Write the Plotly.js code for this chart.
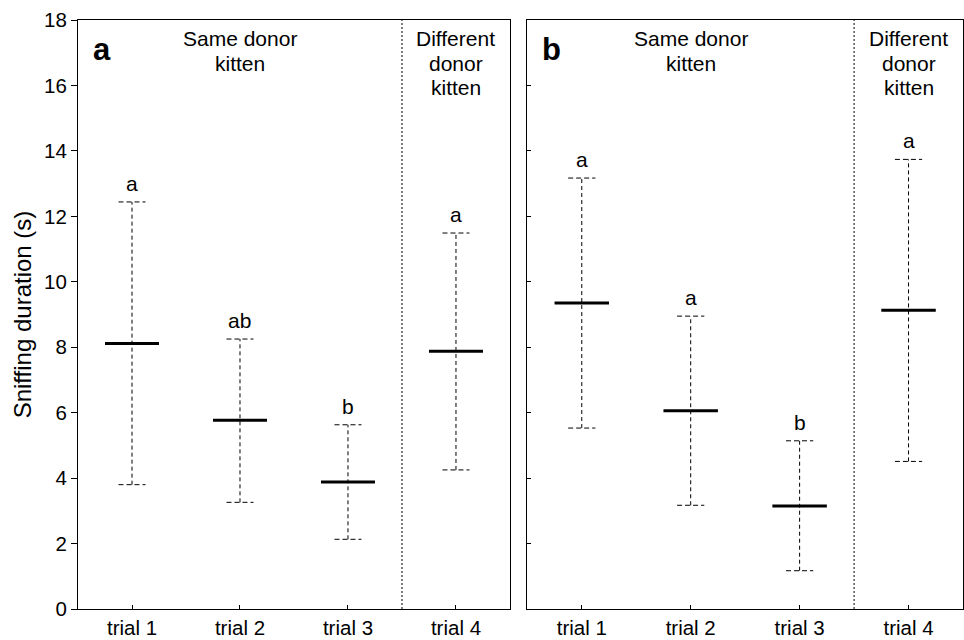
<!DOCTYPE html>
<html>
<head>
<meta charset="utf-8">
<script src="https://cdn.plot.ly/plotly-3.0.1.min.js"></script>
<style>html,body{margin:0;padding:0;background:#fff;}#chart{width:964px;height:640px;}</style>
</head>
<body>
<div id="chart"></div>
<script>
// ---- data ----
const trials = ['trial 1', 'trial 2', 'trial 3', 'trial 4'];
const aMedian = [8.11, 5.77, 3.88, 7.88];
const aLow    = [3.80, 3.26, 2.13, 4.25];
const aHigh   = [12.44, 8.25, 5.63, 11.49];
const aLetters = ['a', 'ab', 'b', 'a'];
const bMedian = [9.35, 6.06, 3.15, 9.13];
const bLow    = [5.53, 3.17, 1.17, 4.51];
const bHigh   = [13.17, 8.95, 5.14, 13.74];
const bLetters = ['a', 'a', 'b', 'a'];
const yTicks = [0, 2, 4, 6, 8, 10, 12, 14, 16, 18];
const groupSame = ['Same donor', 'kitten'];
const groupDiff = ['Different', 'donor', 'kitten'];
const panelLabels = ['a', 'b'];

const FONT = '"Liberation Sans", Arial, sans-serif';
const CAP = 0.125, MED = 0.25;

function panelTraces(med, low, high, xa, ya) {
  const pos = trials.map((_, i) => i + 1);
  const vx = [], vy = [], cx = [], cy = [], mx = [], my = [];
  pos.forEach((p, i) => {
    vx.push(p, p, null); vy.push(low[i], high[i], null);
    cx.push(p - CAP, p + CAP, null, p - CAP, p + CAP, null);
    cy.push(high[i], high[i], null, low[i], low[i], null);
    mx.push(p - MED, p + MED, null); my.push(med[i], med[i], null);
  });
  const base = {type: 'scatter', mode: 'lines', xaxis: xa, yaxis: ya, hoverinfo: 'skip', showlegend: false};
  return [
    Object.assign({}, base, {x: vx, y: vy, line: {color: '#000', width: 1, dash: '4px,3px'}}),
    Object.assign({}, base, {x: cx, y: cy, line: {color: '#000', width: 1, dash: '5px,3px'}}),
    Object.assign({}, base, {x: mx, y: my, line: {color: '#000', width: 3}}),
    Object.assign({}, base, {x: [3.5, 3.5], y: [yTicks[0], yTicks[yTicks.length - 1]], line: {color: '#000', width: 1, dash: '2px,2px'}})
  ];
}

const data = [].concat(
  panelTraces(aMedian, aLow, aHigh, 'x', 'y'),
  panelTraces(bMedian, bLow, bHigh, 'x2', 'y2')
);

const TXT = {family: FONT, size: 21, color: '#000'};
function panelAnn(high, letters, xr, yr, label) {
  const anns = [];
  const top = yTicks[yTicks.length - 1];
  letters.forEach((t, i) => anns.push({
    x: i + 1, y: high[i], xref: xr, yref: yr, text: t, showarrow: false,
    yanchor: 'bottom', yshift: 5, font: TXT
  }));
  groupSame.forEach((t, k) => anns.push({x: 2, y: top, xref: xr, yref: yr, text: t, showarrow: false,
    yanchor: 'top', yshift: -5 - 24.5 * k, font: TXT}));
  groupDiff.forEach((t, k) => anns.push({x: 4, y: top, xref: xr, yref: yr, text: t, showarrow: false,
    yanchor: 'top', yshift: -5 - 24.5 * k, font: TXT}));
  anns.push({x: 0.5, y: top, xref: xr, yref: yr, text: '<b>' + label + '</b>', showarrow: false,
    xanchor: 'left', yanchor: 'top', xshift: 13, yshift: -10, font: {family: FONT, size: 31, color: '#000'}});
  return anns;
}

const xBase = {
  range: [0.5, 4.5], tickvals: [1, 2, 3, 4], ticktext: trials,
  ticks: 'inside', ticklen: 4, tickcolor: '#000',
  showline: true, mirror: true, linecolor: '#000', linewidth: 1,
  showgrid: false, zeroline: false, fixedrange: true,
  tickfont: {family: FONT, size: 20.5, color: '#000'}
};
const yBase = {
  range: [0, 18], tickvals: yTicks,
  showline: true, mirror: true, linecolor: '#000', linewidth: 1,
  showgrid: false, zeroline: false, fixedrange: true, tickcolor: '#000',
  tickfont: {family: FONT, size: 20.5, color: '#000'}
};

const layout = {
  width: 964, height: 640,
  margin: {l: 78, r: 1, t: 20, b: 31},
  paper_bgcolor: '#fff', plot_bgcolor: '#fff',
  font: {family: FONT, color: '#000'},
  xaxis: Object.assign({}, xBase, {domain: [0, 0.4881], anchor: 'y'}),
  xaxis2: Object.assign({}, xBase, {domain: [0.5077, 1], anchor: 'y2'}),
  yaxis: Object.assign({}, yBase, {anchor: 'x', ticks: 'outside', ticklen: 6,
    title: {text: 'Sniffing duration (s)', font: {family: FONT, size: 24, color: '#000'}, standoff: 5}}),
  yaxis2: Object.assign({}, yBase, {anchor: 'x2', ticks: 'inside', ticklen: 4, showticklabels: false}),
  annotations: [].concat(
    panelAnn(aHigh, aLetters, 'x', 'y', panelLabels[0]),
    panelAnn(bHigh, bLetters, 'x2', 'y2', panelLabels[1])
  )
};

Plotly.newPlot('chart', data, layout, {displayModeBar: false, staticPlot: true});
</script>
</body>
</html>
